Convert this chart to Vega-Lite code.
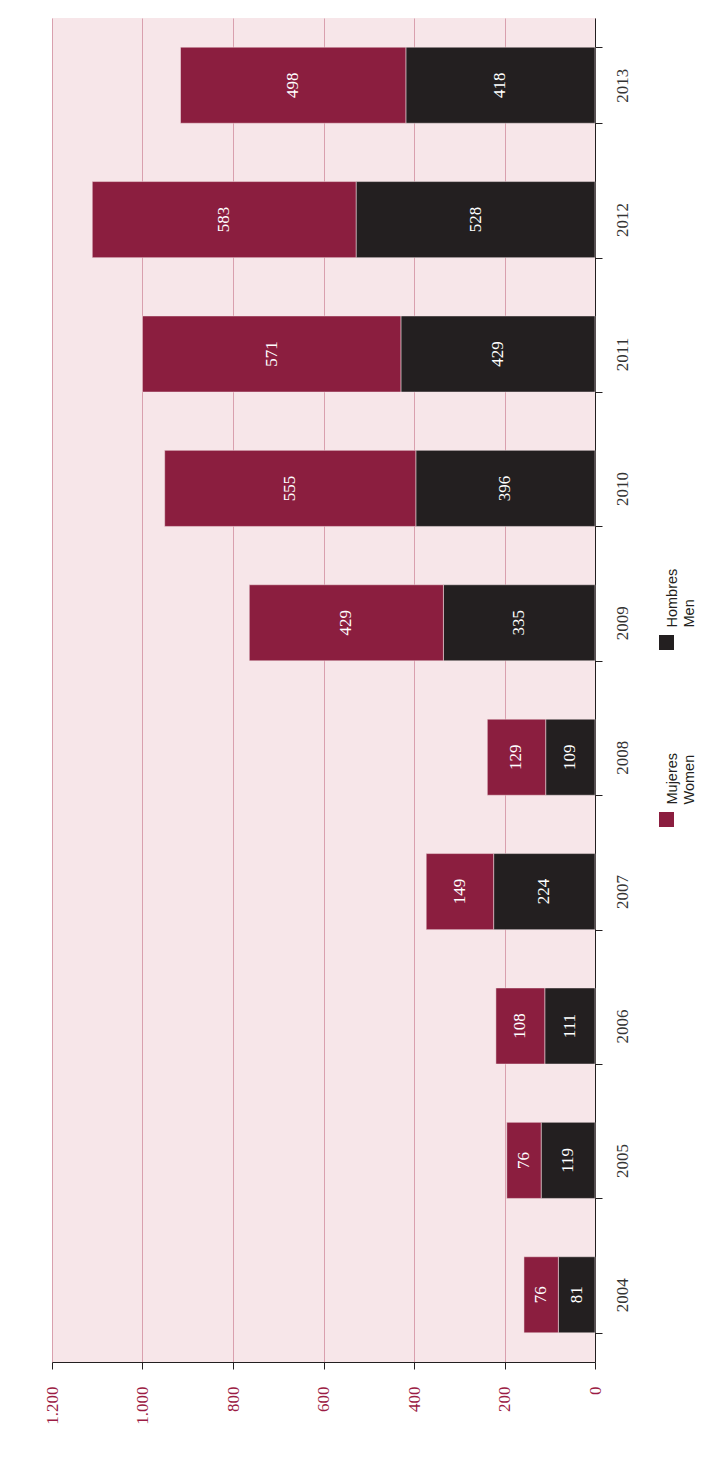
{
  "$schema": "https://vega.github.io/schema/vega-lite/v6.json",
  "width": 543,
  "height": 1344,
  "autosize": {"type": "none"},
  "padding": {"left": 52, "top": 18, "right": 125, "bottom": 105},
  "background": "white",
  "config": {"view": {"fill": "#f7e6e9", "stroke": null}, "font": "Liberation Serif"},
  "data": {"values": [
    {"year": "2004", "sexo": "Hombres", "ord": 1, "value": 81},
    {"year": "2004", "sexo": "Mujeres", "ord": 2, "value": 76},
    {"year": "2005", "sexo": "Hombres", "ord": 1, "value": 119},
    {"year": "2005", "sexo": "Mujeres", "ord": 2, "value": 76},
    {"year": "2006", "sexo": "Hombres", "ord": 1, "value": 111},
    {"year": "2006", "sexo": "Mujeres", "ord": 2, "value": 108},
    {"year": "2007", "sexo": "Hombres", "ord": 1, "value": 224},
    {"year": "2007", "sexo": "Mujeres", "ord": 2, "value": 149},
    {"year": "2008", "sexo": "Hombres", "ord": 1, "value": 109},
    {"year": "2008", "sexo": "Mujeres", "ord": 2, "value": 129},
    {"year": "2009", "sexo": "Hombres", "ord": 1, "value": 335},
    {"year": "2009", "sexo": "Mujeres", "ord": 2, "value": 429},
    {"year": "2010", "sexo": "Hombres", "ord": 1, "value": 396},
    {"year": "2010", "sexo": "Mujeres", "ord": 2, "value": 555},
    {"year": "2011", "sexo": "Hombres", "ord": 1, "value": 429},
    {"year": "2011", "sexo": "Mujeres", "ord": 2, "value": 571},
    {"year": "2012", "sexo": "Hombres", "ord": 1, "value": 528},
    {"year": "2012", "sexo": "Mujeres", "ord": 2, "value": 583},
    {"year": "2013", "sexo": "Hombres", "ord": 1, "value": 418},
    {"year": "2013", "sexo": "Mujeres", "ord": 2, "value": 498}
  ]},
  "encoding": {
    "y": {
      "field": "year", "type": "nominal", "sort": "descending",
      "scale": {"paddingInner": 0.434, "paddingOuter": 0.217},
      "axis": {
        "orient": "right", "title": null, "labelAngle": -90, "tickBand": "extent",
        "tickSize": 7, "tickColor": "#231f20", "domainColor": "#231f20",
        "labelColor": "#333333", "labelFontSize": 17, "labelFont": "Liberation Serif",
        "labelPadding": 12, "grid": false
      }
    }
  },
  "layer": [
    {
      "mark": {"type": "bar", "stroke": "#f7e6e9", "strokeWidth": 0.5},
      "encoding": {
        "x": {
          "field": "value", "type": "quantitative", "stack": "zero",
          "scale": {"domain": [0, 1200], "reverse": true, "nice": false},
          "axis": {
            "orient": "bottom", "title": null, "values": [0, 200, 400, 600, 800, 1000, 1200],
            "labelExpr": "replace(format(datum.value, ','), ',', '.')",
            "labelAngle": -90, "labelColor": "#9b1b44", "labelFontSize": 17,
            "labelFont": "Liberation Serif", "tickSize": 7, "tickColor": "#231f20",
            "domainColor": "#231f20", "grid": true, "gridColor": "#d9a0ae",
            "labelPadding": 17
          }
        },
        "color": {
          "field": "sexo", "type": "nominal",
          "scale": {"domain": ["Hombres", "Mujeres"], "range": ["#231f20", "#8b1e3f"]},
          "legend": {
            "orient": "none", "legendX": 607, "legendY": 617, "title": null,
            "direction": "vertical", "symbolType": "square", "symbolSize": 225,
            "symbolStrokeWidth": 0, "padding": 0,
            "labelExpr": "datum.label == 'Mujeres' ? ['Mujeres','Women'] : ['Hombres','Men']",
            "labelFont": "Liberation Sans", "labelFontSize": 14.5, "labelColor": "#231f20",
            "rowPadding": 102, "labelOffset": -1,
            "encoding": {"labels": {"angle": {"value": -90}, "align": {"value": "left"}, "baseline": {"value": "middle"}, "dx": {"value": 15}}}
          }
        },
        "order": {"field": "ord", "type": "quantitative"}
      }
    },
    {
      "mark": {"type": "text", "angle": 270, "align": "center", "baseline": "middle", "color": "white", "fontSize": 17, "font": "Liberation Serif"},
      "encoding": {
        "x": {"field": "value", "type": "quantitative", "stack": "zero", "bandPosition": 0.5},
        "detail": {"field": "sexo"},
        "order": {"field": "ord", "type": "quantitative"},
        "text": {"field": "value", "type": "quantitative"}
      }
    }
  ]
}
